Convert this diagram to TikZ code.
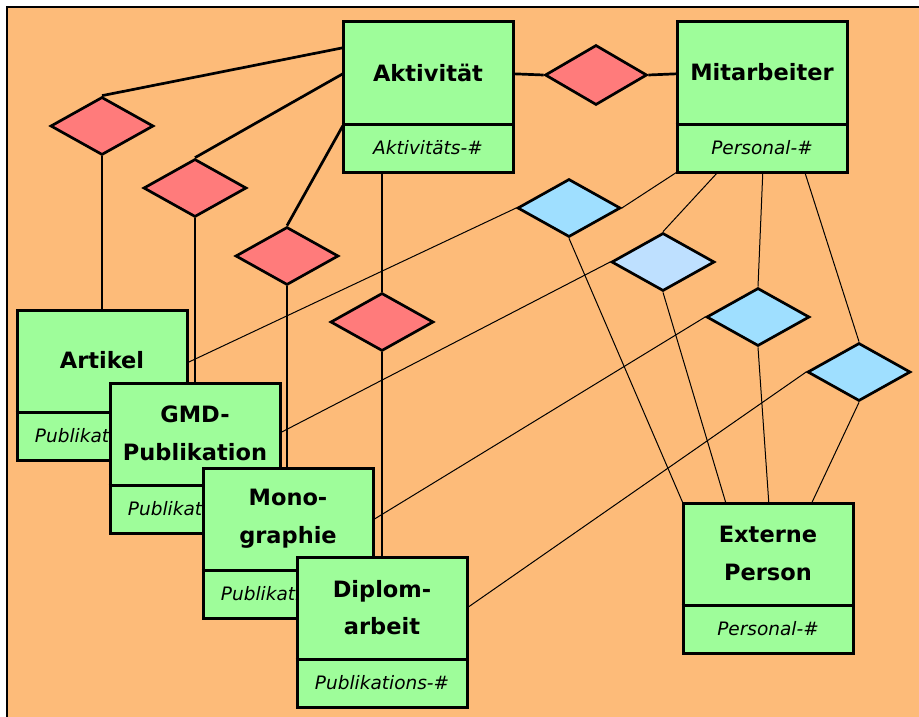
\documentclass[tikz,border=0pt]{standalone}
\usepackage{fontspec}
\setmainfont{DejaVu Sans}
\usetikzlibrary{shapes.geometric,calc}
\definecolor{bgorange}{HTML}{FDBB79}
\definecolor{entgreen}{HTML}{9EFD9A}
\definecolor{relred}{HTML}{FF7B7B}
\definecolor{relblue}{HTML}{9FDFFF}
\definecolor{rellight}{HTML}{BEE0FF}
\tikzset{
  ent/.style={draw=black, line width=3pt, fill=entgreen, rectangle, minimum width=170pt, minimum height=150pt, inner sep=0pt},
  title/.style={font=\bfseries\fontsize{22.5}{37.5}\selectfont, align=center, inner sep=0pt},
  attr/.style={font=\itshape\fontsize{18.5}{22}\selectfont, inner sep=0pt},
  rel/.style={draw=black, line width=2.7pt, diamond, minimum width=103pt, minimum height=58pt, inner sep=0pt},
  thickcon/.style={line width=2.7pt},
  thincon/.style={line width=1pt},
  divider/.style={line width=3pt},
  anchorbox/.style={minimum width=170pt, minimum height=150pt, inner sep=0pt}
}
\newcommand{\entbox}[5]{% name, x, y, title, attribute
  \node[ent] (#1) at (#2,#3) {};
  \draw[divider] ($(#1.north west)+(0,104)$) -- ($(#1.north east)+(0,104)$);
  \node[title] (#1t) at ($(#1.north)+(0,52)$) {#4};
  \node[attr] (#1a) at ($(#1.north)+(0,127)$) {#5};
}
\begin{document}
\begin{tikzpicture}[x=1pt,y=-1pt]
\useasboundingbox (0,0) rectangle (919,717);
\fill[white] (0,0) rectangle (919,717);
\fill[bgorange] (7,7) rectangle (919,717);
\draw[line width=2pt] (7,717) -- (7,7) -- (919,7);

% entity anchors (boxes drawn later, on top)
\path (428,97) node[anchorbox] (akt) {};
\path (762,97) node[anchorbox] (mit) {};
\path (102,385) node[anchorbox] (art) {};
\path (195,458) node[anchorbox] (gmd) {};
\path (288,543) node[anchorbox] (mono) {};
\path (382,632) node[anchorbox] (dip) {};
\path (768,578) node[anchorbox] (ext) {};

% relationship anchors
\path (596,75) node[rel, draw=none, minimum height=60pt, minimum width=102pt] (da) {};
\path (102,126) node[rel, draw=none] (d1) {};
\path (195,188) node[rel, draw=none] (d2) {};
\path (287,256) node[rel, draw=none] (d3) {};
\path (382,322) node[rel, draw=none] (d4) {};
\path (569,208) node[rel, draw=none] (b1) {};
\path (663,262) node[rel, draw=none] (b2) {};
\path (758,317) node[rel, draw=none] (b3) {};
\path (859,372) node[rel, draw=none] (b4) {};

% thin connectors
\draw[thincon] (mit.south west) -- (b1.east);
\draw[thincon] (b1.west) -- ($(art.north east)+(0,53)$);
\draw[thincon] (b1.south) -- (ext.north west);
\draw[thincon] ($(mit.south west)+(41,0)$) -- (b2.north);
\draw[thincon] (b2.west) -- ($(gmd.north east)+(0,50)$);
\draw[thincon] (b2.south) -- ($(ext.north west)+(43,0)$);
\draw[thincon] ($(mit.south west)+(86,0)$) -- (b3.north);
\draw[thincon] (b3.west) -- ($(mono.north east)+(0,52)$);
\draw[thincon] (b3.south) -- ($(ext.north west)+(86,0)$);
\draw[thincon] ($(mit.south west)+(128,0)$) -- (b4.north);
\draw[thincon] (b4.west) -- ($(dip.north east)+(0,51)$);
\draw[thincon] (b4.south) -- ($(ext.north west)+(129,0)$);

% thick connectors
\draw[thickcon] ($(akt.north west)+(0,26)$) -- (d1.north);
\draw[thickcon] ($(akt.north west)+(0,52)$) -- (d2.north);
\draw[thickcon] ($(akt.north west)+(0,104)$) -- (d3.north);
\draw[thickcon] (d4.north |- akt.south) -- (d4.north);
\draw[thickcon] (d1.south) -- (art.north);
\draw[thickcon] (d2.south) -- (gmd.north);
\draw[thickcon] (d3.south) -- (d3.south |- mono.north);
\draw[thickcon] (d4.south) -- (dip.north);
\draw[thickcon] ($(akt.north east)+(0,52)$) -- (da.west);
\draw[thickcon] (da.east) -- ($(mit.north west)+(0,52)$);

% diamonds drawn on top of connectors
\node[rel, fill=relred, minimum height=60pt, minimum width=102pt] (dav) at (da) {};
\node[rel, fill=relred] (d1v) at (d1) {};
\node[rel, fill=relred] (d2v) at (d2) {};
\node[rel, fill=relred] (d3v) at (d3) {};
\node[rel, fill=relred] (d4v) at (d4) {};
\node[rel, fill=relblue] (b1v) at (b1) {};
\node[rel, fill=rellight] (b2v) at (b2) {};
\node[rel, fill=relblue] (b3v) at (b3) {};
\node[rel, fill=relblue] (b4v) at (b4) {};

% entities
\entbox{aktb}{428}{97}{Aktivität}{Aktivitäts-\#}
\entbox{mitb}{762}{97}{Mitarbeiter}{Personal-\#}
\entbox{artb}{102}{385}{Artikel}{Publikations-\#}
\entbox{gmdb}{195}{458}{GMD-\\Publikation}{Publikations-\#}
\entbox{monob}{288}{543}{Mono-\\graphie}{Publikations-\#}
\entbox{dipb}{382}{632}{Diplom-\\arbeit}{Publikations-\#}
\entbox{extb}{768}{578}{Externe\\Person}{Personal-\#}
\end{tikzpicture}
\end{document}
